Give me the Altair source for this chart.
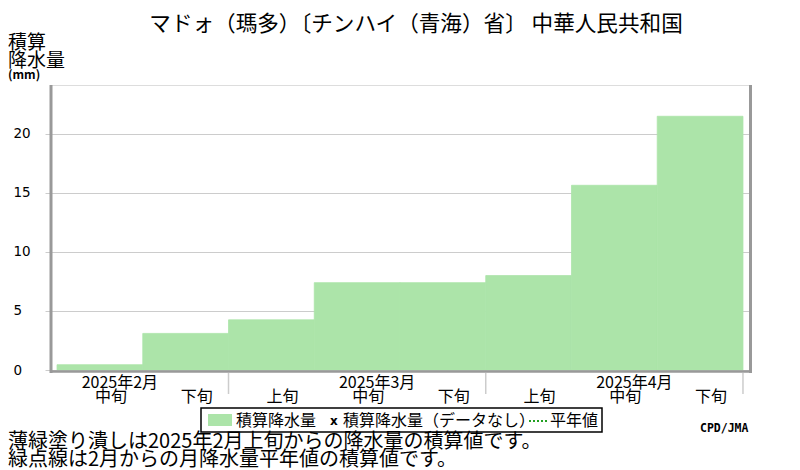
import altair as alt
import pandas as pd

# ---- data ----
periods = ["2025年2月中旬", "2025年2月下旬", "2025年3月上旬", "2025年3月中旬",
           "2025年3月下旬", "2025年4月上旬", "2025年4月中旬", "2025年4月下旬"]
dekad_labels = ["中旬", "下旬", "上旬", "中旬", "下旬", "上旬", "中旬", "下旬"]
dekad_slot = [1, 2, 3, 4, 5, 6, 7, 8]   # dekad number counted from 2025年2月上旬 = 0
precip_cum = [0.45, 3.1, 4.25, 7.4, 7.4, 8.0, 15.65, 21.5]
month_labels = ["2025年2月", "2025年3月", "2025年4月"]
month_mid_slot = [1, 4, 7]
month_end_slot = [3, 6, 9]
y_ticks = [0, 5, 10, 15, 20]

title_text = "マドォ（瑪多）〔チンハイ（青海）省〕 中華人民共和国"
y_title = ["積算", "降水量"]
legend_texts = ["積算降水量", "x", "積算降水量（データなし）", "平年値"]
notes = ["薄緑塗り潰しは2025年2月上旬からの降水量の積算値です。",
         "緑点線は2月からの月降水量平年値の積算値です。"]
credit = "CPD/JMA"

W, H = 700, 285
JP = "Noto Sans CJK JP"
GREEN = "#ace4a9"
GRAY = "#999999"

df = pd.DataFrame({
    "period": periods,
    "label": dekad_labels,
    "start": dekad_slot,
    "value": precip_cum,
})
df["end"] = df["start"] + 1
df["center"] = df["start"] + 0.5
df["zero"] = 0

xscale = alt.Scale(domain=[0.918, 9.082], nice=False, zero=False)

bars = alt.Chart(df).mark_rect(color=GREEN, stroke=GREEN, strokeWidth=0.8).encode(
    x=alt.X("start:Q", scale=xscale, axis=None),
    x2="end:Q",
    y=alt.Y("value:Q", scale=alt.Scale(domain=[0, 24.15], nice=False),
            axis=alt.Axis(values=y_ticks, grid=True, gridColor="#cccccc", gridWidth=1,
                          tickColor="#cccccc", tickSize=5, domain=False,
                          labelAlign="left", labelPadding=32, labelFont="DejaVu Sans",
                          labelFontSize=13.5, labelColor="black", title=None)),
    y2="zero:Q",
    tooltip=["period", "value"],
)

one = pd.DataFrame({"k": [0]})

def rule(x, x2, y, y2, color=GRAY, width=3, dash=None):
    kw = dict(color=color, strokeWidth=width)
    if dash:
        kw["strokeDash"] = dash
    return alt.Chart(one).mark_rule(**kw).encode(
        x=alt.value(x), x2=alt.value(x2), y=alt.value(y), y2=alt.value(y2))

def text(t, x, y, size, align="left", baseline="alphabetic", font=JP, weight="normal", color="black"):
    return alt.Chart(pd.DataFrame({"t": [t]})).mark_text(
        align=align, baseline=baseline, font=font, fontSize=size, fontWeight=weight, color=color
    ).encode(x=alt.value(x), y=alt.value(y), text="t:N")

# frame
left_b = rule(1, 1, 0, H + 3)
right_b = rule(700.5, 700.5, 0, H + 3)
bottom_b = rule(0, 702, H + 1.5, H + 1.5, width=2.5)

# month separators below axis
sep_df = pd.DataFrame({"s": month_end_slot})
seps = alt.Chart(sep_df).mark_rule(color="#cccccc", strokeWidth=1.5).encode(
    x=alt.X("s:Q", scale=xscale, axis=None),
    y=alt.value(H + 3), y2=alt.value(H + 24))

dek = alt.Chart(df).mark_text(font=JP, fontSize=16, align="center", baseline="alphabetic",
                              dx=11, color="black").encode(
    x=alt.X("center:Q", scale=xscale, axis=None),
    y=alt.value(H + 32), text="label:N")

mon_df = pd.DataFrame({"m": month_labels, "slot": month_mid_slot})
mon_df["c"] = mon_df["slot"] + 0.5
mon = alt.Chart(mon_df).mark_text(font=JP, fontSize=16, align="center", baseline="alphabetic",
                                  dx=20, color="black").encode(
    x=alt.X("c:Q", scale=xscale, axis=None),
    y=alt.value(H + 18), text="m:N")

# titles
ttl = text(title_text, 366, -54, 21.6, align="center")
yt1 = text(y_title[0], -42, -36, 19)
yt2 = text(y_title[1], -42, -18, 19)
yt3 = text("(mm)", -42, -6, 12, weight="bold")

# legend
leg_box = alt.Chart(one).mark_rect(fill="white", stroke="black", strokeWidth=1.5).encode(
    x=alt.value(151), x2=alt.value(552), y=alt.value(323), y2=alt.value(347))
leg_sw = alt.Chart(one).mark_rect(fill=GREEN).encode(
    x=alt.value(158), x2=alt.value(182), y=alt.value(329), y2=alt.value(341))
lt1 = text(legend_texts[0], 186, 336, 16, baseline="middle")
lx = text(legend_texts[1], 280, 336, 12, baseline="middle", font="DejaVu Sans", weight="bold")
lt2 = text(legend_texts[2], 293, 336, 16, baseline="middle")
ldot = rule(479, 497, 336, 336, color="#22a022", width=2, dash=[2, 2])
lt3 = text(legend_texts[3], 500, 336, 16, baseline="middle")

cred = text(credit, 650, 347, 11.5, font="DejaVu Sans Mono", weight="bold")
n1 = text(notes[0], -42, 363, 20)
n2 = text(notes[1], -42, 381, 20)

chart = alt.layer(
    bars, seps, left_b, right_b, bottom_b, dek, mon, ttl, yt1, yt2, yt3,
    leg_box, leg_sw, lt1, lx, lt2, ldot, lt3, cred, n1, n2
).properties(
    width=W, height=H,
    autosize=alt.AutoSizeParams(type="none"),
    padding={"left": 42, "top": 77, "right": 42, "bottom": 100},
).configure_view(stroke=None).configure(background="white")

chart.save("out.html", embed_options={"renderer": "svg", "actions": False})
